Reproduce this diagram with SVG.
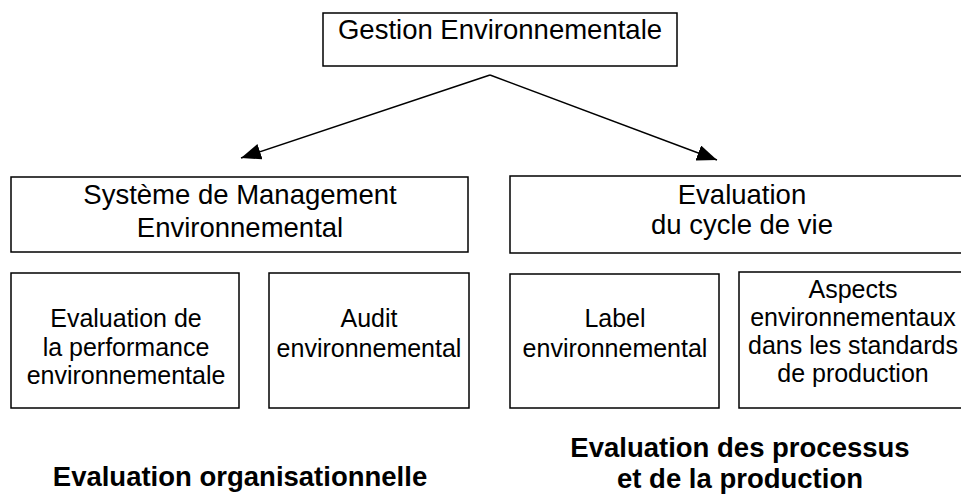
<svg xmlns="http://www.w3.org/2000/svg" width="961" height="495" viewBox="0 0 961 495">
  <style>
    .box { fill: #ffffff; stroke: #000000; stroke-width: 1.5; }
    .t { font-family: "Liberation Sans", Arial, sans-serif; font-size: 25px; fill: #000000; text-anchor: middle; }
    .big { font-size: 27.5px; }
    .title { font-family: "Liberation Sans", Arial, sans-serif; font-size: 27.5px; font-weight: bold; fill: #000000; text-anchor: middle; }
    .link { stroke: #000000; stroke-width: 1.5; fill: none; marker-end: url(#arrow); }
  </style>
  <defs>
    <marker id="arrow" markerUnits="userSpaceOnUse" markerWidth="22" markerHeight="16" refX="20" refY="8" orient="auto">
      <path d="M0,0 L20,8 L0,16 Z" fill="#000000"/>
    </marker>
  </defs>
  <rect width="961" height="495" fill="#ffffff"/>

  <g id="connectors">
    <line class="link" x1="490" y1="75" x2="241" y2="158"/>
    <line class="link" x1="490" y1="75" x2="717" y2="160"/>
  </g>

  <g id="gestion">
    <rect class="box" x="323" y="13" width="354" height="53"/>
    <text class="t big" x="500" y="39">Gestion Environnementale</text>
  </g>

  <g id="sme">
    <rect class="box" x="11" y="177" width="457" height="75"/>
    <text class="t big" x="240" y="204">Système de Management</text>
    <text class="t big" x="240" y="237">Environnemental</text>
  </g>

  <g id="acv">
    <rect class="box" x="510" y="176" width="470" height="77"/>
    <text class="t big" x="742" y="204">Evaluation</text>
    <text class="t big" x="742" y="234">du cycle de vie</text>
  </g>

  <g id="performance">
    <rect class="box" x="11" y="273" width="228" height="135"/>
    <text class="t" x="126" y="327">Evaluation de</text>
    <text class="t" x="126" y="356">la performance</text>
    <text class="t" x="126" y="384">environnementale</text>
  </g>

  <g id="audit">
    <rect class="box" x="269" y="273" width="200" height="135"/>
    <text class="t" x="369" y="327">Audit</text>
    <text class="t" x="369" y="357">environnemental</text>
  </g>

  <g id="label">
    <rect class="box" x="510" y="274" width="209" height="134"/>
    <text class="t" x="615" y="327">Label</text>
    <text class="t" x="615" y="357">environnemental</text>
  </g>

  <g id="aspects">
    <rect class="box" x="739" y="272" width="240" height="136"/>
    <text class="t" x="853" y="298">Aspects</text>
    <text class="t" x="853" y="326">environnementaux</text>
    <text class="t" x="853" y="354">dans les standards</text>
    <text class="t" x="853" y="382">de production</text>
  </g>

  <g id="orga">
    <text class="title" x="240" y="486">Evaluation organisationnelle</text>
  </g>

  <g id="processus">
    <text class="title" x="740" y="457">Evaluation des processus</text>
    <text class="title" x="740" y="488">et de la production</text>
  </g>
</svg>
